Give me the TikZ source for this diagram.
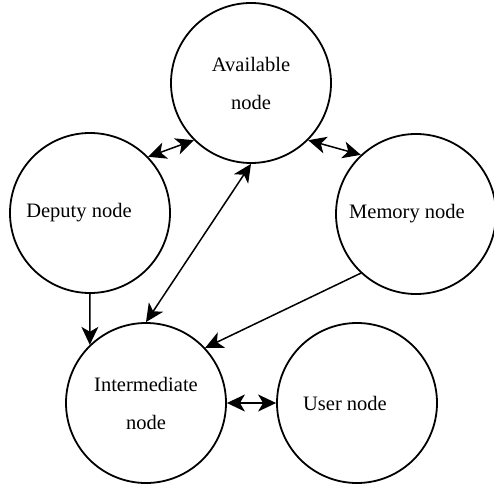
\documentclass[tikz,border=0pt]{standalone}
\usepackage{fontspec}
\setmainfont{Liberation Serif}
\usetikzlibrary{arrows.meta}

\begin{document}
\begin{tikzpicture}[
    x=1pt, y=1pt,
    peer/.style={draw, circle, line width=1.8pt, minimum size=160pt, inner sep=0pt, align=center,
                 font=\fontsize{20.5}{38}\selectfont},
    tag/.style={font=\fontsize{20.5}{38}\selectfont},
    link/.style={line width=1.5pt, -{Stealth[length=18pt,width=17pt,inset=5pt]}},
    duplex/.style={line width=1.5pt, {Stealth[length=18pt,width=17pt,inset=5pt]}-{Stealth[length=18pt,width=17pt,inset=5pt]}}
]
    \useasboundingbox (0,0) rectangle (494,485);

    \node[peer] (avail) at (251,402) {Available\\node};
    \node[peer, label={[tag, xshift=-11pt]center:Deputy node}] (deputy) at (90,272) {};
    \node[peer, label={[tag, xshift=-9pt]center:Memory node}] (memory) at (416,271) {};
    \node[peer] (inter) at (146,82) {Intermediate\\node};
    \node[peer, label={[tag, xshift=-12pt]center:User node}] (user) at (357,82) {};

    \draw[duplex] (deputy.44) -- (avail.225);
    \draw[duplex] (avail.315) -- (memory.133);
    \draw[duplex] (avail.south) -- (inter.north);
    \draw[link] (deputy.south) -- (inter.134);
    \draw[link] (memory.227) -- (inter.43);
    \draw[duplex] (inter.east) -- (user.west);
\end{tikzpicture}
\end{document}
